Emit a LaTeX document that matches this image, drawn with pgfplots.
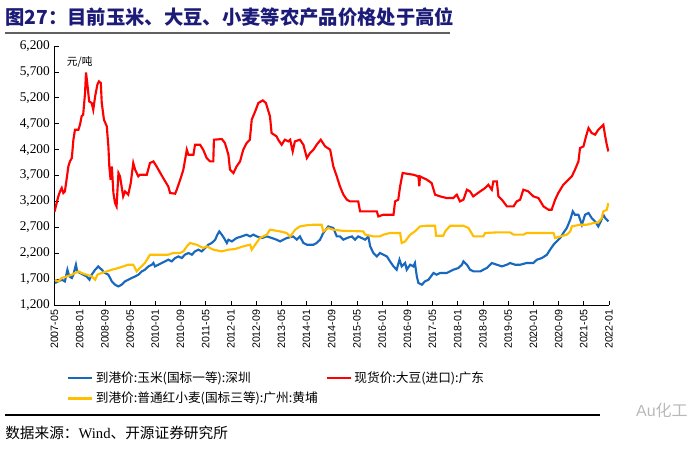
\documentclass[border=0pt]{standalone}
\usepackage{fontspec}
\setmainfont{Liberation Serif}
\setsansfont{Liberation Sans}
\newfontfamily\cjk{Noto Sans CJK SC}
\usepackage{pgfplots}
\pgfplotsset{compat=1.18}
\definecolor{cblue}{RGB}{24,104,190}
\definecolor{cred}{RGB}{255,0,0}
\definecolor{cgold}{RGB}{255,190,0}
\definecolor{navy}{RGB}{28,28,120}

\begin{document}
\begin{tikzpicture}
\useasboundingbox (-40.875pt,-109.5pt) rectangle (484.125pt,228.75pt);

% title and rule
\node[anchor=west, inner sep=0pt, text=navy, font=\cjk\bfseries\fontsize{14.5}{16}\selectfont] at (-37.125pt,216pt) {图27：目前玉米、大豆、小麦等农产品价格处于高位};
\draw[line width=2.2pt, gray!75!black] (-37.125pt,204pt) -- (296.6pt,204pt);

\begin{axis}[
    at={(0pt,0pt)}, anchor=south west,
    scale only axis,
    width=415.875pt, height=194.25pt,
    xmin=0, xmax=176,
    ymin=1200, ymax=6200,
    axis lines=left,
    axis line style={-, black, line width=0.6pt},
    tick align=inside,
    major tick length=3pt,
    tick style={black, line width=0.6pt},
    xtick={0,8,...,176},
    xticklabels={2007-05,2008-01,2008-09,2009-05,2010-01,2010-09,2011-05,2012-01,2012-09,2013-05,2014-01,2014-09,2015-05,2016-01,2016-09,2017-05,2018-01,2018-09,2019-05,2020-01,2020-09,2021-05,2022-01},
    ytick={1200,1700,...,6200},
    /pgf/number format/assume math mode=true,
    /pgf/number format/1000 sep={,},
    yticklabel style={font=\rmfamily\fontsize{10}{12}\selectfont},
    xticklabel style={rotate=90, anchor=east, font=\sffamily\fontsize{8}{10}\selectfont},
    legend columns=2,
    legend cell align=left,
    legend style={at={(0.015,-0.235)}, anchor=north west, draw=none, fill=none,
        font=\cjk\fontsize{9.5}{11}\selectfont, row sep=2pt,
        /tikz/every even column/.append style={column sep=4pt}},
    legend image code/.code={\draw[#1] (0pt,0pt) -- (18pt,0pt);},
]
\addplot[cblue, line width=1.6pt] coordinates {
(0.16,1625) (1.2,1656) (2.3,1688) (3.3,1656) (4.1,1881) (4.7,1752) (5.5,1721) (6.0,1785)
(6.8,1978) (7.2,1849) (8.1,1818) (9.1,1785) (10.2,1752) (11.1,1688) (11.8,1785) (12.9,1881)
(13.9,1945) (15.0,1881) (16.0,1818) (17.1,1785) (18.2,1656) (19.2,1592) (20.3,1559) (21.3,1592)
(22.4,1656) (23.4,1688) (24.5,1721) (25.6,1752) (26.6,1785) (27.7,1849) (28.7,1881) (29.8,1945)
(30.9,1978) (31.4,2011) (31.9,1945) (33.0,1978) (34.0,2011) (35.1,2042) (36.1,2075) (37.2,2042)
(38.3,2107) (39.3,2138) (40.4,2107) (41.4,2171) (42.5,2204) (43.6,2171) (44.6,2235) (45.7,2268)
(46.7,2235) (47.8,2300) (48.8,2364) (49.9,2397) (51.0,2461) (51.7,2558) (52.3,2621) (53.1,2558)
(53.8,2493) (54.7,2397) (55.2,2461) (56.3,2428) (57.8,2493) (59.4,2524) (61.0,2558) (62.1,2524)
(63.1,2558) (64.2,2524) (65.8,2493) (67.4,2524) (69.0,2493) (70.5,2461) (71.6,2428) (73.7,2493)
(75.8,2524) (76.9,2461) (77.9,2524) (79.0,2397) (80.1,2364) (82.2,2364) (83.2,2397) (84.3,2461)
(85.3,2590) (86.9,2717) (88.5,2686) (89.6,2524) (90.6,2524) (91.7,2461) (92.8,2493) (94.4,2524)
(95.4,2461) (96.4,2524) (97.5,2493) (98.6,2461) (99.6,2524) (100.2,2332) (101.2,2204) (102.3,2138)
(103.3,2204) (104.4,2171) (105.5,2138) (106.5,2042) (107.6,1945) (108.6,1881) (109.5,2075) (110.2,1945)
(111.3,2011) (111.8,1881) (112.9,1978) (113.9,1945) (114.4,2011) (115.0,1752) (115.5,1625) (116.6,1592)
(117.6,1656) (118.7,1688) (120.3,1818) (121.3,1785) (122.4,1818) (124.5,1818) (126.6,1881) (128.2,1914)
(129.3,1978) (129.8,2042) (130.9,1978) (131.9,1881) (133.0,1849) (135.1,1849) (137.2,1914) (138.8,2011)
(140.4,1978) (142.0,1945) (143.6,1978) (144.6,2011) (146.2,1978) (147.8,1978) (149.9,2011) (152.0,2011)
(153.1,2075) (154.7,2107) (156.3,2171) (157.3,2268) (158.4,2364) (159.4,2428) (160.5,2493) (161.5,2590)
(162.6,2686) (163.7,2847) (164.5,3007) (165.2,2943) (166.3,2943) (167.4,2750) (168.4,2943) (169.5,2976)
(170.5,2880) (171.6,2814) (172.6,2717) (173.4,2814) (174.2,2943) (174.8,2880) (175.8,2814)
};
\addlegendentry{到港价:玉米(国标一等):深圳}
\addplot[cred, line width=1.6pt] coordinates {
(0,3000) (1.2,3297) (1.75,3393) (2.3,3459) (2.8,3362) (3.3,3393) (3.9,3652) (4.4,3876)
(4.9,3972) (5.5,4038) (6.0,4391) (6.5,4584) (7.6,4584) (8.1,4681) (8.6,4841) (9.1,4874)
(9.7,5293) (10.0,5690) (10.4,5486) (11.0,5131) (11.8,5100) (12.3,4970) (12.9,5227) (13.6,5453)
(14.1,5517) (14.7,5486) (15.0,5100) (15.7,4777) (16.6,4648) (17.1,4262) (17.4,3876) (17.8,3619)
(18.2,3876) (18.7,3362) (19.2,3169) (19.7,3103) (20.3,3748) (20.8,3683) (21.3,3490) (21.8,3297)
(22.4,3393) (23.4,3330) (24.2,3555) (25.0,3941) (25.6,3812) (26.6,3683) (27.1,3715) (29.3,3715)
(30.3,3941) (31.4,3972) (32.4,3876) (33.3,3779) (34.5,3652) (36.1,3490) (36.7,3362) (38.3,3349)
(38.8,3426) (39.9,3619) (40.9,3812) (42.0,4198) (42.5,4101) (44.1,4101) (44.6,4294) (46.2,4294)
(47.2,4198) (48.3,4038) (49.4,3972) (50.4,3972) (50.6,4391) (53.1,4404) (54.1,4327) (55.2,4101)
(55.7,3812) (56.8,3748) (57.8,3876) (58.9,3972) (59.9,4198) (61.0,4327) (62.0,4391) (62.6,4777)
(63.7,4938) (64.7,5100) (66.1,5150) (67.1,5100) (68.4,4841) (68.9,4520) (70.5,4455) (71.0,4391)
(72.1,4294) (73.1,4391) (74.2,4359) (74.8,4391) (75.6,4165) (76.3,4359) (77.9,4391) (79.0,4294)
(80.1,4038) (81.1,4134) (82.2,4198) (83.2,4294) (84.5,4391) (85.9,4262) (87.5,4198) (88.5,3876)
(89.6,3683) (90.6,3490) (91.7,3330) (92.8,3233) (93.8,3200) (96.4,3200) (97.0,3007) (102.3,3007)
(102.8,2910) (104.4,2943) (107.6,2943) (108.1,3200) (109.1,3233) (109.7,3490) (110.5,3748) (113.9,3715)
(115.5,3683) (115.8,3490) (116.0,3683) (118.2,3619) (119.7,3555) (120.8,3330) (122.4,3297) (124.5,3265)
(126.6,3265) (127.7,3330) (128.7,3200) (129.8,3233) (130.9,3426) (131.9,3393) (132.9,3297) (135.1,3393)
(136.7,3459) (137.7,3522) (138.8,3426) (139.3,3586) (140.4,3586) (140.9,3297) (142.0,3233) (143.6,3103)
(145.7,3103) (146.7,3200) (147.8,3233) (148.8,3426) (150.4,3393) (152.0,3297) (153.6,3265) (155.2,3103)
(156.8,3040) (157.8,3040) (158.9,3233) (159.9,3362) (161.5,3522) (162.6,3586) (164.2,3683) (165.2,3812)
(166.3,3972) (166.8,4230) (167.9,4262) (168.7,4455) (169.5,4617) (170.5,4520) (171.6,4488) (172.6,4584)
(174.2,4681) (174.8,4455) (175.3,4294) (175.8,4165)
};
\addlegendentry{现货价:大豆(进口):广东}
\addplot[cgold, line width=1.6pt] coordinates {
(0.16,1688) (1.2,1656) (2.3,1721) (3.9,1752) (5.5,1785) (6.5,1818) (7.6,1849) (8.6,1818)
(10.2,1785) (11.8,1752) (12.9,1688) (13.6,1785) (15.0,1818) (16.6,1849) (18.2,1881) (20.3,1914)
(21.8,1945) (23.4,1978) (25.0,1978) (26.1,1849) (27.1,1914) (28.7,2011) (30.3,2171) (31.9,2171)
(34.0,2171) (36.1,2171) (37.7,2204) (39.8,2204) (40.9,2235) (42.0,2332) (43.0,2397) (45.1,2364)
(46.2,2332) (47.2,2300) (48.3,2332) (50.4,2268) (53.1,2235) (55.2,2268) (57.3,2281) (59.9,2332)
(62.1,2364) (62.6,2268) (63.7,2364) (65.2,2493) (67.4,2558) (68.4,2654) (71.6,2621) (73.7,2590)
(74.8,2524) (76.4,2654) (77.9,2717) (80.1,2740) (82.2,2750) (84.8,2750) (85.3,2621) (86.9,2686)
(88.5,2654) (91.2,2634) (98.0,2621) (98.6,2558) (101.2,2524) (103.3,2524) (104.4,2558) (106.5,2590)
(109.7,2590) (110.2,2397) (111.3,2428) (112.9,2558) (114.4,2621) (116.0,2717) (118.2,2730) (120.8,2730)
(121.1,2537) (123.4,2537) (124.0,2621) (125.6,2730) (129.8,2730) (131.4,2686) (133.0,2524) (136.1,2524)
(136.7,2590) (140.4,2602) (144.6,2602) (145.7,2558) (148.8,2558) (149.9,2590) (158.4,2590) (158.9,2493)
(160.5,2524) (162.6,2558) (163.7,2621) (164.2,2717) (166.8,2750) (169.0,2750) (171.1,2783) (172.6,2795)
(173.7,2880) (174.2,3007) (175.3,3040) (175.8,3169)
};
\addlegendentry{到港价:普通红小麦(国标三等):广州:黄埔}
\node[anchor=west, inner sep=0pt, font=\cjk\fontsize{8}{9}\selectfont] at (rel axis cs:0.022,0.94) {元/吨};
\end{axis}

% bottom rule, source, watermark
\draw[line width=0.8pt] (-37.125pt,-82.5pt) -- (409pt,-82.5pt);
\node[anchor=west, inner sep=0pt, font=\fontsize{11}{13}\selectfont] at (-37.125pt,-96pt) {{\cjk 数据来源：}Wind{\cjk 、开源证券研究所}};
\node[anchor=west, inner sep=0pt, text=gray!55, font=\sffamily\fontsize{12}{14}\selectfont] at (436pt,-79pt) {Au{\cjk 化工}};
\end{tikzpicture}
\end{document}
